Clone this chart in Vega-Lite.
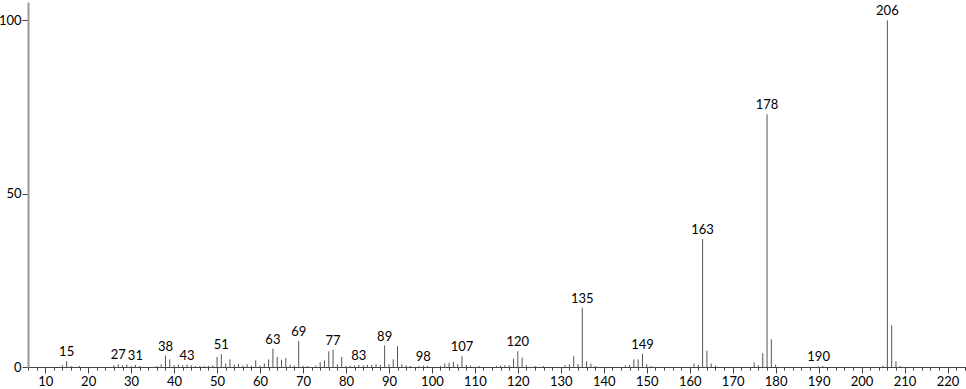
{
  "$schema": "https://vega.github.io/schema/vega-lite/v6.json",
  "width": 941,
  "height": 365,
  "autosize": "none",
  "padding": {"left": 28, "top": 2, "right": 0, "bottom": 22},
  "background": "white",
  "config": {"view": {"stroke": null}, "font": "Lato", "axis": {"grid": false}},
  "data": {"values": [
    {"mz": 14, "i": 0.5}, {"mz": 15, "i": 1.7, "label": "15"}, {"mz": 16, "i": 0.3}, {"mz": 18, "i": 0.3},
    {"mz": 26, "i": 0.5}, {"mz": 27, "i": 0.8, "label": "27"}, {"mz": 28, "i": 0.5}, {"mz": 29, "i": 0.7}, {"mz": 30, "i": 0.3}, {"mz": 31, "i": 0.6, "label": "31"}, {"mz": 32, "i": 0.3},
    {"mz": 36, "i": 0.3}, {"mz": 37, "i": 0.8}, {"mz": 38, "i": 3.3, "label": "38"}, {"mz": 39, "i": 2.2}, {"mz": 40, "i": 0.5}, {"mz": 41, "i": 0.7}, {"mz": 42, "i": 0.5}, {"mz": 43, "i": 0.7, "label": "43"}, {"mz": 44, "i": 0.5}, {"mz": 45, "i": 0.3}, {"mz": 46, "i": 0.3}, {"mz": 47, "i": 0.3}, {"mz": 48, "i": 0.3}, {"mz": 49, "i": 0.5},
    {"mz": 50, "i": 2.9}, {"mz": 51, "i": 3.7, "label": "51"}, {"mz": 52, "i": 1.0}, {"mz": 53, "i": 2.2}, {"mz": 54, "i": 0.7}, {"mz": 55, "i": 0.9}, {"mz": 56, "i": 0.4}, {"mz": 57, "i": 0.8}, {"mz": 58, "i": 0.4}, {"mz": 59, "i": 1.9},
    {"mz": 60, "i": 0.4}, {"mz": 61, "i": 1.0}, {"mz": 62, "i": 2.2}, {"mz": 63, "i": 5.3, "label": "63"}, {"mz": 64, "i": 2.9}, {"mz": 65, "i": 2.1}, {"mz": 66, "i": 2.6}, {"mz": 67, "i": 0.7}, {"mz": 68, "i": 0.4}, {"mz": 69, "i": 7.5, "label": "69"},
    {"mz": 70, "i": 0.3}, {"mz": 71, "i": 0.3}, {"mz": 73, "i": 0.4}, {"mz": 74, "i": 1.4}, {"mz": 75, "i": 1.9}, {"mz": 76, "i": 4.5}, {"mz": 77, "i": 5.0, "label": "77"}, {"mz": 78, "i": 0.8}, {"mz": 79, "i": 2.9},
    {"mz": 80, "i": 0.3}, {"mz": 81, "i": 0.4}, {"mz": 82, "i": 0.4}, {"mz": 83, "i": 0.6, "label": "83"}, {"mz": 84, "i": 0.4}, {"mz": 85, "i": 0.6}, {"mz": 86, "i": 0.6}, {"mz": 87, "i": 0.8}, {"mz": 88, "i": 0.6}, {"mz": 89, "i": 6.2, "label": "89"},
    {"mz": 90, "i": 0.8}, {"mz": 91, "i": 2.2}, {"mz": 92, "i": 6.0}, {"mz": 93, "i": 0.8}, {"mz": 94, "i": 0.5}, {"mz": 95, "i": 0.3}, {"mz": 97, "i": 0.3}, {"mz": 98, "i": 0.4, "label": "98"}, {"mz": 99, "i": 0.3},
    {"mz": 102, "i": 0.3}, {"mz": 103, "i": 1.0}, {"mz": 104, "i": 1.2}, {"mz": 105, "i": 1.5}, {"mz": 106, "i": 0.8}, {"mz": 107, "i": 3.1, "label": "107"}, {"mz": 108, "i": 0.6}, {"mz": 109, "i": 0.4}, {"mz": 111, "i": 0.3},
    {"mz": 115, "i": 0.3}, {"mz": 116, "i": 0.4}, {"mz": 117, "i": 0.5}, {"mz": 118, "i": 0.5}, {"mz": 119, "i": 2.4}, {"mz": 120, "i": 4.5, "label": "120"}, {"mz": 121, "i": 2.7}, {"mz": 122, "i": 0.5}, {"mz": 124, "i": 0.3}, {"mz": 126, "i": 0.3},
    {"mz": 131, "i": 0.5}, {"mz": 132, "i": 0.8}, {"mz": 133, "i": 3.1}, {"mz": 134, "i": 0.9}, {"mz": 135, "i": 17.1, "label": "135"}, {"mz": 136, "i": 1.6}, {"mz": 137, "i": 1.0}, {"mz": 138, "i": 0.3},
    {"mz": 145, "i": 0.4}, {"mz": 146, "i": 0.6}, {"mz": 147, "i": 2.2}, {"mz": 148, "i": 2.2}, {"mz": 149, "i": 3.8, "label": "149"}, {"mz": 150, "i": 0.8}, {"mz": 151, "i": 0.3},
    {"mz": 161, "i": 1.0}, {"mz": 162, "i": 0.6}, {"mz": 163, "i": 36.9, "label": "163"}, {"mz": 164, "i": 4.7}, {"mz": 165, "i": 1.0}, {"mz": 166, "i": 0.4},
    {"mz": 175, "i": 1.3}, {"mz": 176, "i": 0.5}, {"mz": 177, "i": 4.0}, {"mz": 178, "i": 72.9, "label": "178"}, {"mz": 179, "i": 8.0}, {"mz": 180, "i": 0.7},
    {"mz": 190, "i": 0.2, "label": "190"}, {"mz": 191, "i": 0.3},
    {"mz": 205, "i": 0.4}, {"mz": 206, "i": 100, "label": "206"}, {"mz": 207, "i": 12.0}, {"mz": 208, "i": 1.6}, {"mz": 209, "i": 0.3}
  ]},
  "encoding": {
    "x": {
      "field": "mz", "type": "quantitative",
      "scale": {"domain": [6, 225], "nice": false, "zero": false},
      "axis": {
        "title": null,
        "values": [6,8,10,12,14,16,18,20,22,24,26,28,30,32,34,36,38,40,42,44,46,48,50,52,54,56,58,60,62,64,66,68,70,72,74,76,78,80,82,84,86,88,90,92,94,96,98,100,102,104,106,108,110,112,114,116,118,120,122,124,126,128,130,132,134,136,138,140,142,144,146,148,150,152,154,156,158,160,162,164,166,168,170,172,174,176,178,180,182,184,186,188,190,192,194,196,198,200,202,204,206,208,210,212,214,216,218,220,222,224],
        "labelExpr": "datum.value % 10 === 0 ? datum.label : ''",
        "tickSize": {"condition": {"test": "datum.value % 10 === 0", "value": 6}, "value": 3},
        "labelOverlap": false,
        "labelFlush": false,
        "labelPadding": 2,
        "labelFontSize": 13,
        "labelColor": "#000",
        "tickColor": "#444",
        "domainColor": "#444",
        "domainWidth": 1
      }
    },
    "y": {
      "field": "i", "type": "quantitative",
      "scale": {"domain": [0, 105.3], "nice": false},
      "axis": {
        "title": null,
        "values": [0, 50, 100],
        "tickSize": 6,
        "labelPadding": 1,
        "labelFontSize": 13,
        "labelColor": "#000",
        "tickColor": "#444",
        "domainColor": "#999",
        "domainWidth": 2
      }
    }
  },
  "layer": [
    {
      "mark": {"type": "rule", "stroke": "#555", "strokeWidth": 1},
      "encoding": {"y2": {"datum": 0}}
    },
    {
      "transform": [{"filter": "datum.label"}],
      "mark": {"type": "text", "baseline": "alphabetic", "dy": -5, "fontSize": 13, "color": "#000"},
      "encoding": {"text": {"field": "label"}}
    }
  ]
}
